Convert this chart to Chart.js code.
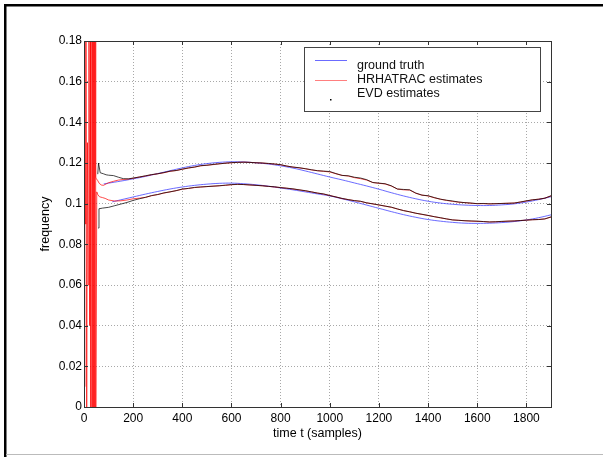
<!DOCTYPE html>
<html lang="en">
<head>
    <meta charset="UTF-8">
    <title>Frequency tracking</title>
    <script src="https://cdn.jsdelivr.net/npm/chart.js"></script>
    <style>
        body { margin: 0; background: #fff; overflow: hidden; }
        canvas { display: block; }
    </style>
</head>
<body>
<canvas id="freqChart" width="603" height="457"></canvas>

<script>
    // ground truth (blue)
    const truthUpperT = [80, 100, 150, 200, 250, 300, 350, 400, 450, 500, 550, 600, 650, 700, 750, 800, 850, 900, 950, 1000,
        1050, 1100, 1150, 1200, 1250, 1300, 1350, 1400, 1450, 1500, 1550, 1600, 1650, 1700, 1750, 1800, 1850, 1900];
    const truthUpper = [0.1097, 0.1101, 0.1111, 0.1122, 0.1134, 0.1148, 0.1162, 0.1176, 0.1188, 0.1197, 0.1203, 0.1206, 0.1205,
        0.1201, 0.1195, 0.1186, 0.1175, 0.1161, 0.1146, 0.1131, 0.1117, 0.1102, 0.1087, 0.1071, 0.1054, 0.1038, 0.1024, 0.1012,
        0.1003, 0.0997, 0.0993, 0.0991, 0.0991, 0.0994, 0.0999, 0.1008, 0.1020, 0.1034];
    const truthLowerT = [115, 150, 200, 250, 300, 350, 400, 450, 500, 550, 600, 650, 700, 750, 800, 850, 900, 950, 1000,
        1050, 1100, 1150, 1200, 1250, 1300, 1350, 1400, 1450, 1500, 1550, 1600, 1650, 1700, 1750, 1800, 1850, 1900];
    const truthLower = [0.1009, 0.1019, 0.1033, 0.1047, 0.1060, 0.1072, 0.1082, 0.1090, 0.1096, 0.1100, 0.1101, 0.1098, 0.1093,
        0.1086, 0.1077, 0.1068, 0.1058, 0.1048, 0.1038, 0.1024, 0.1009, 0.0993, 0.0977, 0.0961, 0.0946, 0.0933, 0.0922, 0.0914,
        0.0908, 0.0904, 0.0903, 0.0904, 0.0907, 0.0912, 0.0920, 0.0931, 0.0945];

    // samples every 25 from 200 to 1900, shared by the estimates
    const stepT = [200, 225, 250, 275, 300, 325, 350, 375, 400, 425, 450, 475, 500, 525, 550, 575, 600, 625, 650, 675, 700,
        725, 750, 775, 800, 825, 850, 875, 900, 925, 950, 975, 1000, 1025, 1050, 1075, 1100, 1125, 1150, 1175, 1200, 1225,
        1250, 1275, 1300, 1325, 1350, 1375, 1400, 1425, 1450, 1475, 1500, 1525, 1550, 1575, 1600, 1625, 1650, 1675, 1700,
        1725, 1750, 1775, 1800, 1825, 1850, 1875, 1900];

    // EVD estimates (black)
    const evdUpperStartT = [56, 59, 66, 79, 90, 100, 120, 140, 160, 180];
    const evdUpperStart = [0.1145, 0.1200, 0.1152, 0.1147, 0.1142, 0.1140, 0.1138, 0.1130, 0.1123, 0.1122];
    const evdUpper = [0.1126, 0.1131, 0.1137, 0.1143, 0.1147, 0.1153, 0.1160, 0.1163, 0.1170, 0.1176, 0.1180, 0.1187, 0.1189,
        0.1193, 0.1196, 0.1199, 0.1202, 0.1203, 0.1204, 0.1203, 0.1201, 0.1200, 0.1198, 0.1195, 0.1192, 0.1185, 0.1180, 0.1177,
        0.1172, 0.1167, 0.1162, 0.1160, 0.1158, 0.1148, 0.1139, 0.1137, 0.1130, 0.1126, 0.1118, 0.1104, 0.1101, 0.1098, 0.1088,
        0.1072, 0.1070, 0.1068, 0.1052, 0.1042, 0.1039, 0.1030, 0.1022, 0.1017, 0.1013, 0.1008, 0.1005, 0.1003, 0.1000, 0.1001,
        0.0999, 0.1000, 0.1001, 0.1002, 0.1003, 0.1008, 0.1014, 0.1019, 0.1022, 0.1027, 0.1039];
    const evdLowerStartT = [58, 61, 75, 100, 125, 150, 175];
    const evdLowerStart = [0.0880, 0.0975, 0.0978, 0.0982, 0.0990, 0.0998, 0.1006];
    const evdLower = [0.1016, 0.1024, 0.1031, 0.1040, 0.1045, 0.1053, 0.1058, 0.1064, 0.1072, 0.1075, 0.1080, 0.1082, 0.1084,
        0.1086, 0.1088, 0.1091, 0.1094, 0.1095, 0.1094, 0.1092, 0.1090, 0.1088, 0.1085, 0.1083, 0.1079, 0.1076, 0.1073, 0.1068,
        0.1064, 0.1058, 0.1052, 0.1048, 0.1040, 0.1033, 0.1026, 0.1020, 0.1015, 0.1012, 0.1004, 0.0999, 0.0994, 0.0988, 0.0983,
        0.0974, 0.0966, 0.0960, 0.0953, 0.0948, 0.0942, 0.0936, 0.0931, 0.0925, 0.0920, 0.0918, 0.0916, 0.0915, 0.0914, 0.0912,
        0.0910, 0.0911, 0.0913, 0.0914, 0.0915, 0.0917, 0.0919, 0.0921, 0.0922, 0.0925, 0.0935];

    // HRHATRAC estimates (red), wild at the start then close to EVD
    const hrUpperStartT = [0, 2, 4, 6, 8, 11, 14, 17, 20, 23, 26, 28, 30, 32, 33, 34, 35, 36, 37, 38, 39, 40, 41, 42, 43, 44,
        45, 47, 48, 50, 55, 62, 70, 79, 90, 100, 120, 140, 160, 180];
    const hrUpperStart = [0.20, 0.01, 0.17, 0.09, 0.20, -0.01, 0.13, 0.06, 0.20, 0.04, 0.19, -0.01, null, 0.20, -0.02, 0.20,
        -0.02, 0.20, -0.02, 0.20, -0.02, 0.20, -0.02, 0.20, -0.02, 0.20, 0.0, 0.20, 0.1130, 0.1123, 0.1115, 0.1100, 0.1092,
        0.1090, 0.1097, 0.1103, 0.1110, 0.1116, 0.1119, 0.1121];
    const hrUpper = [0.1125, 0.1131, 0.1136, 0.1142, 0.1147, 0.1152, 0.1159, 0.1163, 0.1169, 0.1175, 0.1180, 0.1186, 0.1189,
        0.1192, 0.1196, 0.1199, 0.1201, 0.1203, 0.1204, 0.1203, 0.1201, 0.1200, 0.1197, 0.1195, 0.1191, 0.1185, 0.1180, 0.1176,
        0.1172, 0.1166, 0.1162, 0.1159, 0.1156, 0.1147, 0.1139, 0.1136, 0.1128, 0.1123, 0.1116, 0.1104, 0.1100, 0.1097, 0.1087,
        0.1072, 0.1068, 0.1067, 0.1051, 0.1042, 0.1038, 0.1029, 0.1022, 0.1016, 0.1011, 0.1007, 0.1005, 0.1002, 0.1000, 0.1000,
        0.0999, 0.1000, 0.1001, 0.1002, 0.1003, 0.1008, 0.1013, 0.1019, 0.1022, 0.1027, 0.1038];
    const hrLowerStartT = [48, 52, 56, 63, 75, 86, 100, 125, 150, 175];
    const hrLowerStart = [-0.02, 0.1058, 0.1045, 0.1034, 0.1030, 0.1026, 0.1018, 0.1013, 0.1014, 0.1018];
    const hrLower = [0.1024, 0.1027, 0.1031, 0.1039, 0.1045, 0.1052, 0.1058, 0.1064, 0.1071, 0.1075, 0.1079, 0.1082, 0.1084,
        0.1086, 0.1088, 0.1090, 0.1093, 0.1095, 0.1094, 0.1092, 0.1090, 0.1088, 0.1085, 0.1082, 0.1079, 0.1076, 0.1072, 0.1068,
        0.1063, 0.1058, 0.1052, 0.1047, 0.1040, 0.1033, 0.1025, 0.1020, 0.1015, 0.1011, 0.1004, 0.0999, 0.0993, 0.0988, 0.0982,
        0.0974, 0.0966, 0.0960, 0.0953, 0.0947, 0.0942, 0.0936, 0.0930, 0.0925, 0.0920, 0.0918, 0.0916, 0.0914, 0.0913, 0.0912,
        0.0910, 0.0911, 0.0912, 0.0914, 0.0915, 0.0917, 0.0919, 0.0921, 0.0922, 0.0925, 0.0934];

    const xTicks = [0, 200, 400, 600, 800, 1000, 1200, 1400, 1600, 1800];
    const yTicks = [0, 0.02, 0.04, 0.06, 0.08, 0.1, 0.12, 0.14, 0.16, 0.18];

    const legendItems = ['ground truth', 'HRHATRAC estimates', 'EVD estimates'];

    const BLUE = 'rgba(70, 70, 255, 0.8)';
    const RED = 'rgba(255, 0, 0, 0.7)';
    const BLACK = 'rgba(0, 0, 0, 0.72)';
    const FONT = '"Liberation Sans", Arial, sans-serif';

    function pts(ts, vs) {
        return ts.map((t, i) => ({ x: t, y: vs[i] }));
    }

    function lineSet(data, color, order, tension) {
        return {
            data: data,
            borderColor: color,
            borderWidth: 1,
            pointRadius: 0,
            tension: tension,
            spanGaps: false,
            order: order,
            fill: false
        };
    }

    // frame, axes box with inward ticks, and the MATLAB style legend
    const decor = {
        id: 'decor',
        beforeDraw(chart) {
            const ctx = chart.ctx;
            ctx.save();
            ctx.fillStyle = '#fff';
            ctx.fillRect(0, 0, chart.width, chart.height);
            ctx.fillStyle = '#000';
            ctx.fillRect(4, 4, chart.width - 4, 2.5);
            ctx.fillRect(4, 4, 2.5, chart.height - 4);
            ctx.fillStyle = '#bbb';
            ctx.fillRect(6, 454, chart.width - 6, 1);
            ctx.restore();
        },
        afterDraw(chart) {
            const ctx = chart.ctx;
            const a = chart.chartArea;
            const xs = chart.scales.x, ys = chart.scales.y;
            ctx.save();
            ctx.strokeStyle = '#333';
            ctx.lineWidth = 1;
            ctx.strokeRect(Math.round(a.left) + 0.5, Math.round(a.top) + 0.5,
                Math.round(a.right - a.left), Math.round(a.bottom - a.top));
            ctx.beginPath();
            xTicks.forEach(t => {
                const px = Math.round(xs.getPixelForValue(t)) + 0.5;
                ctx.moveTo(px, a.bottom); ctx.lineTo(px, a.bottom - 4);
                ctx.moveTo(px, a.top); ctx.lineTo(px, a.top + 4);
            });
            yTicks.forEach(v => {
                const py = Math.round(ys.getPixelForValue(v)) + 0.5;
                ctx.moveTo(a.left, py); ctx.lineTo(a.left + 4, py);
                ctx.moveTo(a.right, py); ctx.lineTo(a.right - 4, py);
            });
            ctx.stroke();

            // legend box
            const lx = 304, ly = 47, lw = 236, lh = 64;
            ctx.fillStyle = '#fff';
            ctx.fillRect(lx, ly, lw, lh);
            ctx.strokeStyle = '#444';
            ctx.strokeRect(lx + 0.5, ly + 0.5, lw, lh);

            ctx.lineWidth = 1;
            ctx.strokeStyle = BLUE;
            ctx.beginPath(); ctx.moveTo(315, 60.5); ctx.lineTo(347, 60.5); ctx.stroke();
            ctx.strokeStyle = 'rgba(255, 0, 0, 0.5)';
            ctx.beginPath(); ctx.moveTo(315, 80.5); ctx.lineTo(347, 80.5); ctx.stroke();
            ctx.fillStyle = '#000';
            ctx.fillRect(330, 99, 1.5, 1.5);

            ctx.fillStyle = '#111';
            ctx.font = '12.5px ' + FONT;
            ctx.textBaseline = 'middle';
            ctx.textAlign = 'left';
            ctx.fillText(legendItems[0], 357, 66);
            ctx.fillText(legendItems[1], 357, 80);
            ctx.fillText(legendItems[2], 357, 93.5);
            ctx.restore();
        }
    };

    const ctx = document.getElementById('freqChart').getContext('2d');
    const freqChart = new Chart(ctx, {
        type: 'line',
        data: {
            datasets: [
                lineSet(pts(truthUpperT, truthUpper), BLUE, 3, 0.4),
                lineSet(pts(truthLowerT, truthLower), BLUE, 3, 0.4),
                lineSet(pts(hrUpperStartT, hrUpperStart).concat(pts(stepT, hrUpper)), RED, 2, 0),
                lineSet(pts(hrLowerStartT, hrLowerStart).concat(pts(stepT, hrLower)), RED, 2, 0),
                lineSet(pts(evdUpperStartT, evdUpperStart).concat(pts(stepT, evdUpper)), BLACK, 1, 0),
                lineSet(pts(evdLowerStartT, evdLowerStart).concat(pts(stepT, evdLower)), BLACK, 1, 0)
            ]
        },
        options: {
            responsive: false,
            animation: false,
            devicePixelRatio: 1,
            layout: { padding: { left: 34, top: 41, right: 52, bottom: 12 } },
            plugins: {
                legend: { display: false },
                tooltip: { enabled: false }
            },
            scales: {
                x: {
                    type: 'linear',
                    min: 0,
                    max: 1900,
                    afterFit(scale) { scale.height = 38; },
                    border: { display: false, dash: [1, 2] },
                    grid: { color: '#a8a8a8', drawTicks: false },
                    ticks: {
                        stepSize: 200,
                        includeBounds: false,
                        autoSkip: false,
                        maxRotation: 0,
                        padding: 4,
                        color: '#000',
                        font: { family: FONT, size: 12 },
                        callback: v => String(v)
                    },
                    title: {
                        display: true,
                        text: 'time t (samples)',
                        color: '#000',
                        font: { family: FONT, size: 12.5 },
                        padding: { top: 4, bottom: 4 }
                    }
                },
                y: {
                    type: 'linear',
                    min: 0,
                    max: 0.18,
                    afterFit(scale) { scale.width = 50; },
                    border: { display: false, dash: [1, 2] },
                    grid: { color: '#a8a8a8', drawTicks: false },
                    ticks: {
                        stepSize: 0.02,
                        autoSkip: false,
                        padding: 2,
                        color: '#000',
                        font: { family: FONT, size: 12 },
                        callback: v => String(+v.toFixed(2))
                    },
                    title: {
                        display: true,
                        text: 'frequency',
                        color: '#000',
                        font: { family: FONT, size: 12.5 },
                        padding: { top: 4, bottom: 4 }
                    }
                }
            }
        },
        plugins: [decor]
    });
</script>
</body>
</html>
